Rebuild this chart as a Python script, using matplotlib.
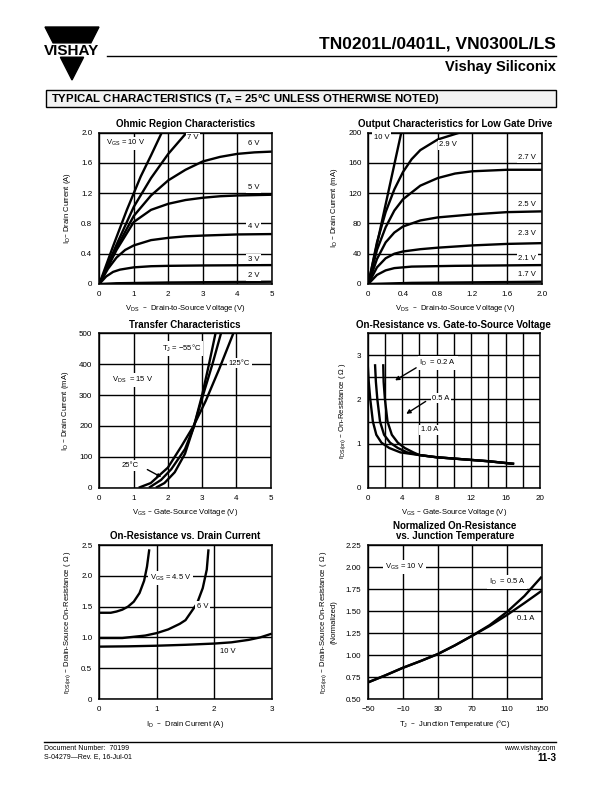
import matplotlib
matplotlib.use("Agg")
import matplotlib.pyplot as plt
import numpy as np
from matplotlib.patches import Polygon, Rectangle

plt.rcParams["font.family"] = ["Liberation Sans", "DejaVu Sans"]
plt.rcParams["mathtext.default"] = "regular"

W, H = 612, 792
NARROW = ["Liberation Sans Narrow", "Liberation Sans", "DejaVu Sans"]

# ---------------------------------------------------------------------------
# Data
# ---------------------------------------------------------------------------

# Ohmic region: VDS (V) -> ID (A)
ohm_10v_x = [0, 0.4, 0.8, 1.2, 1.5, 1.81]
ohm_10v_y = [0, 0.5, 0.98, 1.42, 1.7, 2.0]
ohm_7v_x = [0, 0.5, 1.0, 1.5, 2.0, 2.53]
ohm_7v_y = [0, 0.52, 1.02, 1.40, 1.72, 2.0]
ohm_6v_x = [0, 0.5, 1.0, 1.5, 2.0, 2.5, 3.0, 3.5, 4.0, 4.5, 5.0]
ohm_6v_y = [0, 0.48, 0.9, 1.17, 1.37, 1.51, 1.62, 1.68, 1.72, 1.74, 1.75]
ohm_5v_x = [0, 0.5, 1.0, 1.5, 2.0, 2.5, 3.0, 3.5, 4.0, 5.0]
ohm_5v_y = [0, 0.45, 0.82, 0.98, 1.06, 1.11, 1.14, 1.16, 1.17, 1.18]
ohm_4v_x = [0, 0.25, 0.5, 0.75, 1.0, 1.5, 2.0, 2.5, 3.0, 4.0, 5.0]
ohm_4v_y = [0, 0.2, 0.35, 0.45, 0.51, 0.58, 0.61, 0.63, 0.64, 0.655, 0.66]
ohm_3v_x = [0, 0.2, 0.4, 0.6, 1.0, 1.5, 2.0, 3.0, 5.0]
ohm_3v_y = [0, 0.1, 0.16, 0.19, 0.22, 0.235, 0.24, 0.245, 0.25]
ohm_2v_x = [0, 0.5, 2.0, 5.0]
ohm_2v_y = [0, 0.01, 0.02, 0.03]

# Output characteristics for low gate drive: VDS (V) -> ID (mA)
low_10v_x = [0, 0.38]
low_10v_y = [0, 200]
low_29v_x = [0, 0.1, 0.2, 0.3, 0.4, 0.5, 0.6, 0.8, 1.05]
low_29v_y = [0, 55, 95, 125, 148, 165, 177, 191, 200]
low_27v_x = [0, 0.1, 0.2, 0.3, 0.4, 0.6, 0.8, 1.0, 1.2, 1.6, 2.0]
low_27v_y = [0, 45, 75, 97, 112, 130, 140, 146, 149, 151, 151]
low_25v_x = [0, 0.1, 0.2, 0.3, 0.4, 0.6, 0.8, 1.2, 1.6, 2.0]
low_25v_y = [0, 33, 55, 68, 76, 84, 88, 92, 95, 96]
low_23v_x = [0, 0.1, 0.2, 0.3, 0.4, 0.6, 0.8, 1.2, 1.6, 2.0]
low_23v_y = [0, 22, 34, 40, 43, 46, 48, 51, 53, 54]
low_21v_x = [0, 0.1, 0.2, 0.3, 0.5, 1.0, 2.0]
low_21v_y = [0, 12, 18, 21, 23, 24, 25]
low_17v_x = [0, 0.5, 2.0]
low_17v_y = [0, 1.5, 3]

# Transfer characteristics: VGS (V) -> ID (mA)
tr_m55_x = [1.65, 1.9, 2.2, 2.5, 2.75, 3.0, 3.2, 3.39]
tr_m55_y = [0, 15, 50, 110, 195, 300, 400, 500]
tr_25_x = [1.45, 1.8, 2.1, 2.5, 2.75, 3.0, 3.3, 3.55]
tr_25_y = [0, 25, 60, 125, 195, 290, 400, 500]
tr_125_x = [1.15, 1.5, 2.0, 2.4, 2.75, 3.1, 3.5, 3.91]
tr_125_y = [0, 15, 65, 135, 200, 280, 385, 500]

# On-resistance vs gate-to-source voltage: VGS (V) -> rDS(on) (ohm)
rg_tail_x = [6, 8, 10, 12, 14, 16, 17]
rg_tail_y = [0.74, 0.69, 0.66, 0.63, 0.60, 0.56, 0.54]
rg_02a_x = [0.0, 0.12, 0.3, 0.6, 1.0, 1.6, 2.5, 3.8] + rg_tail_x
rg_02a_y = [2.8, 2.4, 2.0, 1.5, 1.2, 1.02, 0.9, 0.8] + rg_tail_y
rg_05a_x = [0.85, 0.95, 1.12, 1.43, 1.9, 2.6, 3.5, 4.6] + rg_tail_x
rg_05a_y = [2.8, 2.4, 2.0, 1.5, 1.2, 1.02, 0.9, 0.8] + rg_tail_y
rg_10a_x = [1.8, 1.85, 2.0, 2.3, 2.8, 3.5, 4.3, 5.3] + rg_tail_x
rg_10a_y = [2.8, 2.4, 2.0, 1.5, 1.2, 1.02, 0.9, 0.8] + rg_tail_y

# On-resistance vs drain current: ID (A) -> rDS(on) (ohm)
ri_45v_x = [0, 0.2, 0.3, 0.4, 0.5, 0.6, 0.7, 0.78, 0.83, 0.87]
ri_45v_y = [1.4, 1.4, 1.42, 1.45, 1.5, 1.58, 1.72, 1.92, 2.15, 2.43]
ri_6v_x = [0, 0.4, 0.8, 1.0, 1.2, 1.4, 1.5, 1.7, 1.8, 1.87, 1.9]
ri_6v_y = [0.99, 0.99, 1.03, 1.07, 1.13, 1.22, 1.28, 1.55, 1.8, 2.1, 2.43]
ri_10v_x = [0, 0.5, 1.0, 1.5, 2.0, 2.3, 2.6, 2.8, 3.0]
ri_10v_y = [0.85, 0.855, 0.865, 0.88, 0.9, 0.92, 0.96, 1.0, 1.06]

# Normalized on-resistance vs junction temperature
nt_temp = [-50, -30, -10, 10, 30, 50, 70, 90, 110, 130, 150]
nt_05a = [0.69, 0.77, 0.855, 0.93, 1.01, 1.11, 1.22, 1.34, 1.49, 1.67, 1.89]
nt_01a = [0.69, 0.77, 0.855, 0.93, 1.01, 1.11, 1.22, 1.33, 1.455, 1.59, 1.73]

# ---------------------------------------------------------------------------

fig = plt.figure(figsize=(W / 100, H / 100), dpi=100)

bg = fig.add_axes([0, 0, 1, 1])
bg.set_xlim(0, W)
bg.set_ylim(H, 0)
bg.axis("off")


def place(left, top, right, bottom):
    return fig.add_axes([left / W, 1 - bottom / H, (right - left) / W, (bottom - top) / H])


def style(ax, title, xlabel, ylabel, xlim, ylim, xgrid, ygrid, xticks, yticks,
          xfmt=None, yfmt=None):
    ax.set_xlim(*xlim)
    ax.set_ylim(*ylim)
    ax.set_xticks(xticks)
    ax.set_yticks(yticks)
    ax.set_xticks(xgrid, minor=True)
    ax.set_yticks(ygrid, minor=True)
    if xfmt:
        ax.set_xticklabels(xfmt)
    if yfmt:
        ax.set_yticklabels(yfmt)
    ax.grid(True, which="both", color="black", lw=1.0)
    ax.set_axisbelow(True)
    ax.tick_params(which="both", length=0, labelsize=5.8, pad=5)
    for s in ax.spines.values():
        s.set_linewidth(1.1)
    ax.set_title(title, fontsize=7, fontweight="bold", family=NARROW, pad=4)
    ax.set_xlabel(xlabel, fontsize=5.5, labelpad=4)
    ax.set_ylabel(ylabel, fontsize=5.5, labelpad=6)


def label(ax, x, y, s, ha="left"):
    ax.text(x, y, s, fontsize=5.5, ha=ha, va="center",
            bbox=dict(facecolor="white", edgecolor="none", pad=1.2))


CURVE = dict(color="black", lw=1.7, solid_capstyle="butt")

# --- Ohmic region ----------------------------------------------------------
ax1 = place(99.3, 132.7, 271.7, 284)
for xs, ys in [(ohm_10v_x, ohm_10v_y), (ohm_7v_x, ohm_7v_y), (ohm_6v_x, ohm_6v_y),
               (ohm_5v_x, ohm_5v_y), (ohm_4v_x, ohm_4v_y), (ohm_3v_x, ohm_3v_y),
               (ohm_2v_x, ohm_2v_y)]:
    ax1.plot(xs, ys, **CURVE)
style(ax1, "Ohmic Region Characteristics",
      "V$_{DS}$  \u2013  Drain-to-Source Voltage (V)", "I$_D$\u2013 Drain Current (A)",
      (0, 5), (0, 2.0), np.arange(0, 5.01, 1), np.arange(0, 2.01, 0.4),
      [0, 1, 2, 3, 4, 5], [0, 0.4, 0.8, 1.2, 1.6, 2.0],
      yfmt=["0", "0.4", "0.8", "1.2", "1.6", "2.0"])
label(ax1, 0.18, 1.86, "V$_{GS}$ = 10 V")
label(ax1, 2.55, 1.93, "7 V")
label(ax1, 4.3, 1.86, "6 V")
label(ax1, 4.3, 1.27, "5 V")
label(ax1, 4.3, 0.76, "4 V")
label(ax1, 4.3, 0.33, "3 V")
label(ax1, 4.3, 0.11, "2 V")

# --- Low gate drive --------------------------------------------------------
ax2 = place(368.3, 132.7, 541.7, 284)
for xs, ys in [(low_10v_x, low_10v_y), (low_29v_x, low_29v_y), (low_27v_x, low_27v_y),
               (low_25v_x, low_25v_y), (low_23v_x, low_23v_y), (low_21v_x, low_21v_y),
               (low_17v_x, low_17v_y)]:
    ax2.plot(xs, ys, **CURVE)
style(ax2, "Output Characteristics for Low Gate Drive",
      "V$_{DS}$  \u2013  Drain-to-Source Voltage (V)", "I$_D$ \u2013 Drain Current (mA)",
      (0, 2.0), (0, 200), np.arange(0, 2.01, 0.4), np.arange(0, 201, 40),
      [0, 0.4, 0.8, 1.2, 1.6, 2.0], [0, 40, 80, 120, 160, 200],
      xfmt=["0", "0.4", "0.8", "1.2", "1.6", "2.0"])
label(ax2, 0.06, 194, "10 V")
label(ax2, 0.82, 184, "2.9 V")
label(ax2, 1.73, 167, "2.7 V")
label(ax2, 1.73, 105, "2.5 V")
label(ax2, 1.73, 67, "2.3 V")
label(ax2, 1.73, 34, "2.1 V")
label(ax2, 1.73, 13, "1.7 V")

# --- Transfer ----------------------------------------------------------------
ax3 = place(99.3, 333.3, 270.7, 487.7)
for xs, ys in [(tr_m55_x, tr_m55_y), (tr_25_x, tr_25_y), (tr_125_x, tr_125_y)]:
    ax3.plot(xs, ys, **CURVE)
style(ax3, "Transfer Characteristics",
      "V$_{GS}$ \u2013 Gate-Source Voltage (V)", "I$_D$ \u2013 Drain Current (mA)",
      (0, 5), (0, 500), np.arange(0, 5.01, 1), np.arange(0, 501, 100),
      [0, 1, 2, 3, 4, 5], [0, 100, 200, 300, 400, 500])
label(ax3, 1.82, 451, "T$_J$ = \u221255\u00b0C")
label(ax3, 0.38, 348, "V$_{DS}$  = 15 V")
label(ax3, 3.78, 403, "125\u00b0C")
label(ax3, 0.66, 72, "25\u00b0C")
ax3.annotate("", xy=(1.88, 30), xytext=(1.33, 63),
             arrowprops=dict(arrowstyle="-|>", color="black", lw=1.0, mutation_scale=5))

# --- On-resistance vs VGS ----------------------------------------------------
ax4 = place(367.7, 333.3, 540, 487.7)
for xs, ys in [(rg_02a_x, rg_02a_y), (rg_05a_x, rg_05a_y), (rg_10a_x, rg_10a_y)]:
    ax4.plot(xs, ys, **CURVE)
style(ax4, "On-Resistance vs. Gate-to-Source Voltage",
      "V$_{GS}$ \u2013 Gate-Source Voltage (V)",
      "r$_{DS(on)}$ \u2013 On-Resistance ( \u03a9 )",
      (0, 20), (0, 3.5), np.arange(0, 20.01, 2), np.arange(0, 3.51, 0.5),
      [0, 4, 8, 12, 16, 20], [0, 1, 2, 3])
label(ax4, 6.0, 2.83, "I$_D$  = 0.2 A")
label(ax4, 7.5, 2.03, "0.5 A")
label(ax4, 6.2, 1.31, "1.0 A")
ax4.annotate("", xy=(2.9, 2.4), xytext=(5.9, 2.75),
             arrowprops=dict(arrowstyle="-|>", color="black", lw=1.0, mutation_scale=6))
ax4.annotate("", xy=(4.2, 1.64), xytext=(7.0, 1.99),
             arrowprops=dict(arrowstyle="-|>", color="black", lw=1.0, mutation_scale=6))

# --- On-resistance vs drain current -----------------------------------------
ax5 = place(99.3, 545, 271.7, 699)
for xs, ys in [(ri_45v_x, ri_45v_y), (ri_6v_x, ri_6v_y), (ri_10v_x, ri_10v_y)]:
    ax5.plot(xs, ys, **CURVE)
style(ax5, "On-Resistance vs. Drain Current",
      "I$_D$  \u2013  Drain Current (A)",
      "r$_{DS(on)}$ \u2013 Drain-Source On-Resistance ( \u03a9 )",
      (0, 3), (0, 2.5), np.arange(0, 3.01, 1), np.arange(0, 2.51, 0.5),
      [0, 1, 2, 3], [0, 0.5, 1.0, 1.5, 2.0, 2.5],
      yfmt=["0", "0.5", "1.0", "1.5", "2.0", "2.5"])
label(ax5, 0.88, 1.96, "V$_{GS}$ = 4.5 V")
label(ax5, 1.7, 1.5, "6 V")
label(ax5, 2.1, 0.77, "10 V")

# --- Normalized on-resistance vs temperature --------------------------------
ax6 = place(368.3, 545, 541.7, 699)
ax6.plot(nt_temp, nt_05a, **CURVE)
ax6.plot(nt_temp, nt_01a, **CURVE)
style(ax6, "Normalized On-Resistance\nvs. Junction Temperature",
      "T$_J$  \u2013  Junction Temperature (\u00b0C)",
      "r$_{DS(on)}$ \u2013 Drain-Source On-Resistance ( \u03a9 )\n(Normalized)",
      (-50, 150), (0.5, 2.25), np.arange(-50, 151, 40), np.arange(0.5, 2.26, 0.25),
      [-50, -10, 30, 70, 110, 150], [0.5, 0.75, 1.0, 1.25, 1.5, 1.75, 2.0, 2.25],
      xfmt=["\u221250", "\u221210", "30", "70", "110", "150"],
      yfmt=["0.50", "0.75", "1.00", "1.25", "1.50", "1.75", "2.00", "2.25"])
ax6.title.set_linespacing(1.0)
label(ax6, -31, 2.0, "V$_{GS}$ = 10 V")
label(ax6, 89, 1.83, "I$_D$  = 0.5 A")
label(ax6, 121, 1.42, "0.1 A")

# --- Page header -------------------------------------------------------------
lx0, lx1, ly0, ly1 = 45, 99, 27, 80
tip = ((lx0 + lx1) / 2, ly1)


def edge_x(y):
    f = (y - ly0) / (ly1 - ly0)
    return lx0 + f * (tip[0] - lx0), lx1 - f * (lx1 - tip[0])


band_top, band_bot = ly0 + 0.30 * (ly1 - ly0), ly0 + 0.57 * (ly1 - ly0)
a, b = edge_x(band_top)
bg.add_patch(Polygon([(lx0, ly0), (lx1, ly0), (b, band_top), (a, band_top)],
                     closed=True, color="black"))
a, b = edge_x(band_bot)
bg.add_patch(Polygon([(a, band_bot), (b, band_bot), tip], closed=True, color="black"))
bg.text((lx0 + lx1) / 2, (band_top + band_bot) / 2 + 0.5, "VISHAY", fontsize=11,
        fontweight="bold", ha="center", va="center", family=NARROW)

bg.text(556, 44, "TN0201L/0401L, VN0300L/LS", fontsize=12.5, fontweight="bold",
        ha="right", va="center", family=NARROW)
bg.plot([107, 556], [55.5, 55.5], color="black", lw=1.0)
bg.text(556, 67, "Vishay Siliconix", fontsize=10.5, fontweight="bold",
        ha="right", va="center", family=NARROW)

bg.add_patch(Rectangle((46, 90), 510, 17, facecolor="#f2f2f2", edgecolor="black", lw=1.0))
bg.text(51, 98.5, "TYPICAL CHARACTERISTICS (T$_A$ = 25\u00b0C UNLESS OTHERWISE NOTED)",
        fontsize=8.2, fontweight="heavy", ha="left", va="center")

# --- Page footer -------------------------------------------------------------
bg.plot([44, 556], [742, 742], color="black", lw=1.0)
bg.text(44, 749, "Document Number:  70199", fontsize=5, ha="left", va="center")
bg.text(44, 757, "S-04279\u2014Rev. E, 16-Jul-01", fontsize=5, ha="left", va="center")
bg.text(556, 749, "www.vishay.com", fontsize=5, ha="right", va="center")
bg.text(556, 758, "11-3", fontsize=7, fontweight="bold", ha="right", va="center")

fig.savefig("out.png", dpi=100)
